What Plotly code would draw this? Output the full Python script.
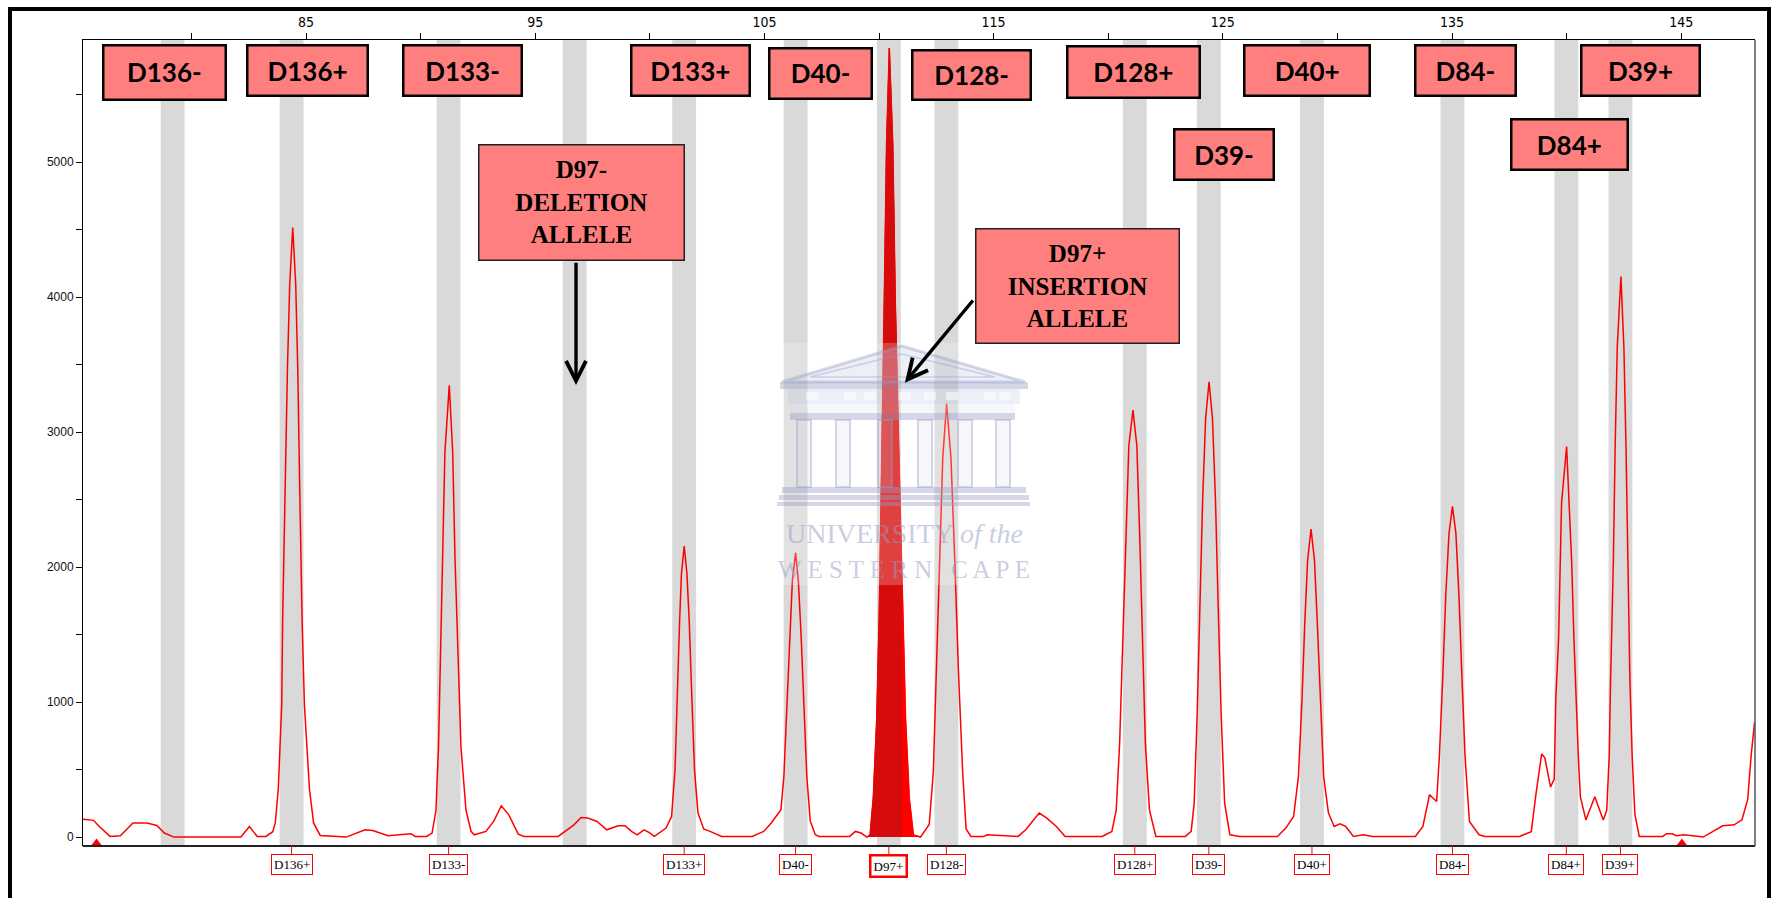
import plotly.graph_objects as go

# ---------------- data ----------------
# marker bins (grey bands) : label and centre in base pairs
bin_labels = ["D136-", "D136+", "D133-", "D97-", "D133+", "D40-", "D97+",
              "D128-", "D128+", "D39-", "D40+", "D84-", "D84+", "D39+"]
bin_centers = [79.18, 84.37, 91.22, 96.72, 101.50, 106.36, 110.43,
               112.94, 121.16, 124.39, 128.89, 135.02, 139.99, 142.35]
bin_width = 1.04

# called alleles shown under the axis
called_labels = ["D136+", "D133-", "D133+", "D40-", "D97+", "D128-",
                 "D128+", "D39-", "D40+", "D84-", "D84+", "D39+"]
called_pos = [84.37, 91.22, 101.50, 106.36, 110.43, 112.94,
              121.16, 124.39, 128.89, 135.02, 139.99, 142.35]

# electropherogram trace: size (bp) and signal (RFU)
trace_x = [
    75.27, 75.73, 75.98, 76.45, 76.90, 77.45, 78.07, 78.49, 78.82, 79.24,
    82.16, 82.53, 82.87, 83.25, 83.55, 83.66, 83.79, 83.94, 83.98, 84.08,
    84.19, 84.29, 84.42, 84.55, 84.64, 84.73, 84.83, 84.93, 85.15, 85.33,
    85.62, 86.75, 87.58, 87.91, 88.58, 89.58, 89.76, 90.26, 90.50, 90.67,
    90.78, 90.86, 90.96, 91.06, 91.25, 91.40, 91.50, 91.64, 91.76, 91.98,
    92.20, 92.34, 92.85, 93.20, 93.52, 93.85, 94.26, 94.51, 96.00, 96.69,
    97.00, 97.29, 97.70, 98.12, 98.62, 98.92, 99.20, 99.45, 99.75, 99.96,
    100.20, 100.71, 100.95, 101.10, 101.20, 101.30, 101.38, 101.50, 101.62, 101.72,
    101.82, 101.95, 102.10, 102.35, 102.63, 103.13, 104.47, 104.97, 105.30, 105.72,
    105.85, 105.98, 106.10, 106.22, 106.36, 106.48, 106.60, 106.72, 106.85, 107.00,
    107.22, 107.39, 108.72, 108.97, 109.22, 109.47, 109.61, 109.75, 109.90, 110.01,
    110.13, 110.23, 110.33, 110.45, 110.60, 110.71, 110.87, 111.03, 111.16, 111.32,
    111.50, 111.81, 112.06, 112.19, 112.37, 112.51, 112.63, 112.78, 112.95, 113.14,
    113.31, 113.46, 113.65, 113.80, 114.01, 114.56, 114.73, 116.07, 116.40, 116.99,
    117.32, 117.74, 118.12, 119.74, 120.16, 120.35, 120.50, 120.62, 120.75, 120.90,
    121.08, 121.25, 121.38, 121.50, 121.62, 121.80, 122.08, 123.37, 123.62, 123.75,
    123.88, 124.00, 124.12, 124.25, 124.40, 124.55, 124.68, 124.80, 124.93, 125.08,
    125.31, 125.73, 127.38, 127.75, 128.09, 128.30, 128.45, 128.58, 128.70, 128.85,
    129.00, 129.12, 129.25, 129.40, 129.61, 129.86, 130.11, 130.36, 130.70, 131.12,
    131.54, 133.40, 133.73, 134.02, 134.33, 134.45, 134.60, 134.73, 134.87, 135.02,
    135.17, 135.30, 135.43, 135.57, 135.76, 136.18, 136.44, 137.95, 138.12, 138.37,
    138.46, 138.66, 138.91, 139.05, 139.30, 139.46, 139.50, 139.53, 139.65, 139.71,
    139.78, 140.00, 140.12, 140.22, 140.32, 140.41, 140.51, 140.60, 140.84, 141.23,
    141.60, 141.75, 141.86, 141.92, 142.04, 142.12, 142.21, 142.37, 142.50, 142.59,
    142.66, 142.76, 142.86, 142.98, 143.17, 144.19, 144.36, 144.61, 144.78, 145.12,
    145.96, 146.38, 146.81, 147.31, 147.65, 147.90, 148.05, 148.20,
]
trace_y = [
    133, 124, 79, 5, 10, 104, 104, 86, 30, 0,
    0, 79, 5, 5, 40, 105, 356, 979, 1602, 2537,
    3472, 4096, 4517, 4096, 3472, 2537, 1602, 979, 356, 105,
    12, 0, 54, 49, 10, 25, 5, 5, 30, 199,
    667, 1290, 2070, 2849, 3348, 2849, 2070, 1290, 667, 199,
    43, 17, 42, 120, 232, 165, 22, 5, 5, 91,
    145, 141, 116, 54, 84, 84, 42, 17, 54, 35,
    5, 67, 153, 500, 1100, 1600, 1950, 2157, 1950, 1600,
    1100, 500, 180, 60, 42, 5, 5, 42, 104, 203,
    450, 1000, 1500, 1900, 2106, 1900, 1500, 1000, 450, 120,
    17, 5, 5, 42, 30, 0, 16, 287, 868, 1643,
    2806, 3968, 5130, 5845, 5130, 3968, 2806, 1643, 868, 287,
    16, 0, 67, 93, 481, 1256, 2031, 2806, 3212, 2806,
    2031, 1256, 481, 60, 5, 5, 17, 5, 54, 178,
    141, 79, 5, 5, 42, 200, 700, 1400, 2200, 2900,
    3164, 2900, 2200, 1400, 700, 200, 5, 5, 42, 250,
    900, 1700, 2500, 3100, 3374, 3100, 2500, 1700, 900, 250,
    17, 5, 5, 67, 153, 450, 1000, 1600, 2050, 2283,
    2050, 1600, 1000, 450, 178, 79, 99, 79, 5, 17,
    5, 5, 79, 314, 264, 600, 1200, 1800, 2250, 2450,
    2250, 1800, 1200, 600, 116, 17, 5, 5, 17, 30,
    40, 314, 616, 587, 371, 429, 700, 1034, 1467, 2043,
    2476, 2894, 2476, 2043, 1467, 1034, 602, 300, 127, 299,
    127, 199, 602, 1176, 2043, 2908, 3629, 4153, 3629, 2908,
    2043, 1176, 602, 170, 5, 5, 25, 25, 10, 17,
    0, 42, 84, 91, 128, 277, 600, 850,
]

# highlighted D97+ peak (filled), and where its dark fill ends on the right flank
d97_start, d97_end = 109.47, 111.81
dark_split_x, dark_split_y = 110.98, 2000

# size-standard markers on the baseline
std_x = [75.86, 145.03]
std_y = [-43, -43]

x_tickvals = [80, 85, 90, 95, 100, 105, 110, 115, 120, 125, 130, 135, 140, 145]
x_ticktext = ["", "85", "", "95", "", "105", "", "115", "", "125", "", "135", "", "145"]
y_tickvals = [0, 500, 1000, 1500, 2000, 2500, 3000, 3500, 4000, 4500, 5000, 5500]
y_ticktext = ["0", "", "1000", "", "2000", "", "3000", "", "4000", "", "5000", ""]

# ---------------- layout geometry (pixels) ----------------
W, H = 1776, 898
PL, PR, PT, PB = 83, 1755, 40, 846


def px(x):
    return (x - PL) / (PR - PL)


def py(y):
    return (PB - y) / (PB - PT)


PINK = "#FF7F7F"
RED = "#FF0000"

fig = go.Figure()

# trace line
fig.add_trace(go.Scatter(x=trace_x, y=trace_y, mode="lines",
                         line=dict(color=RED, width=1.5), hoverinfo="skip",
                         showlegend=False))

# filled D97+ peak (bright part = whole peak, dark overlay = left part)
seg = [(a, b) for a, b in zip(trace_x, trace_y) if d97_start <= a <= d97_end]
fig.add_trace(go.Scatter(x=[a for a, _ in seg], y=[b for _, b in seg],
                         mode="lines", fill="tozeroy", fillcolor=RED,
                         line=dict(color=RED, width=1), showlegend=False,
                         hoverinfo="skip"))
dark = [(a, b) for a, b in seg if a < dark_split_x]
dx = [a for a, _ in dark] + [dark_split_x, dark_split_x]
dy = [b for _, b in dark] + [dark_split_y, 0]
fig.add_trace(go.Scatter(x=dx, y=dy, mode="lines", fill="toself",
                         fillcolor="#D60C0C", line=dict(color="#D60C0C", width=0.5),
                         showlegend=False, hoverinfo="skip"))

# size standard triangles
fig.add_trace(go.Scatter(x=std_x, y=std_y, mode="markers",
                         marker=dict(symbol="triangle-up", size=9, color=RED),
                         cliponaxis=False, showlegend=False, hoverinfo="skip"))

shapes = []
# grey bins
for c in bin_centers:
    shapes.append(dict(type="rect", xref="x", yref="paper",
                       x0=c - bin_width / 2, x1=c + bin_width / 2, y0=0, y1=1,
                       fillcolor="#D9D9D9", line=dict(width=0), layer="below"))

# bottom / right plot frame
shapes.append(dict(type="line", xref="paper", yref="paper", x0=0, x1=1, y0=0, y1=0,
                   line=dict(color="#222222", width=2.2)))
shapes.append(dict(type="line", xref="paper", yref="paper", x0=1, x1=1, y0=0, y1=1,
                   line=dict(color="#555555", width=1.5)))

# connector ticks to called allele labels
for c in called_pos:
    shapes.append(dict(type="line", xref="x", yref="paper", x0=c, x1=c,
                       y0=0, y1=py(854), line=dict(color=RED, width=1)))

# ---- watermark (University of the Western Cape) ----
wm_line = "rgba(150,156,198,0.40)"
wm_fill = "rgba(185,190,222,0.25)"
shapes.append(dict(type="rect", xref="paper", yref="paper",
                   x0=px(780), x1=px(1030), y0=py(585), y1=py(343),
                   fillcolor="rgba(255,255,255,0.22)", line=dict(width=0), layer="above"))
shapes.append(dict(type="path", xref="paper", yref="paper",
                   path="M {:.5f},{:.5f} L {:.5f},{:.5f} L {:.5f},{:.5f} Z".format(
                       px(782), py(382), px(902), py(346), px(1025), py(382)),
                   fillcolor=wm_fill, line=dict(color=wm_line, width=3), layer="above"))
shapes.append(dict(type="path", xref="paper", yref="paper",
                   path="M {:.5f},{:.5f} L {:.5f},{:.5f} L {:.5f},{:.5f} Z".format(
                       px(810), py(377), px(902), py(354), px(995), py(377)),
                   fillcolor="rgba(0,0,0,0)", line=dict(color=wm_line, width=1.5), layer="above"))
for (x0, x1, y0, y1, col) in [
        (780, 1028, 382, 389, wm_line),
        (788, 1020, 389, 404, wm_fill),
        (790, 1015, 404, 413, "rgba(210,213,235,0.20)"),
        (790, 1015, 413, 420, wm_line),
        (782, 1026, 487, 493, wm_line),
        (779, 1029, 495, 500, wm_line),
        (777, 1030, 502, 506, wm_line)]:
    shapes.append(dict(type="rect", xref="paper", yref="paper",
                       x0=px(x0), x1=px(x1), y0=py(y1), y1=py(y0),
                       fillcolor=col, line=dict(width=0), layer="above"))
for wx in [812, 850, 870, 905, 930, 952, 990, 1005]:
    shapes.append(dict(type="rect", xref="paper", yref="paper",
                       x0=px(wx - 6), x1=px(wx + 6), y0=py(400), y1=py(392),
                       fillcolor="rgba(255,255,255,0.5)", line=dict(width=0), layer="above"))
for cx in [804, 843, 885, 925, 965, 1003]:
    shapes.append(dict(type="rect", xref="paper", yref="paper",
                       x0=px(cx - 7), x1=px(cx + 7), y0=py(487), y1=py(420),
                       fillcolor="rgba(200,204,230,0.15)",
                       line=dict(color=wm_line, width=2), layer="above"))

# outer black frame
shapes.append(dict(type="path", xref="paper", yref="paper",
                   path="M {:.5f},{:.5f} L {:.5f},{:.5f} L {:.5f},{:.5f} L {:.5f},{:.5f}".format(
                       px(10), py(905), px(10), py(9), px(1769), py(9), px(1769), py(905)),
                   line=dict(color="black", width=4), layer="above"))

annotations = []
# called allele labels under the axis
for lab, c in zip(called_labels, called_pos):
    thick = lab == "D97+"
    annotations.append(dict(x=c, xref="x", y=py(854), yref="paper", yanchor="top",
                            text=lab, showarrow=False,
                            font=dict(family="Liberation Serif, Times New Roman, serif",
                                      size=13, color="black"),
                            bgcolor="white", bordercolor=RED,
                            borderwidth=2.5 if thick else 1, borderpad=2))

# top pink label boxes: label, centre x, centre y, width, height (pixels)
top_boxes = [
    ("D136-", 164.6, 72.7, 124.7, 56.7),
    ("D136+", 307.7, 70.8, 123.0, 53.0),
    ("D133-", 462.7, 70.8, 121.0, 53.0),
    ("D133+", 690.8, 70.8, 120.6, 53.0),
    ("D40-", 820.9, 73.0, 105.2, 52.6),
    ("D128-", 971.0, 74.9, 121.3, 52.3),
    ("D128+", 1133.3, 72.5, 134.7, 53.6),
    ("D39-", 1224.1, 155.0, 102.0, 53.4),
    ("D40+", 1306.9, 71.0, 128.3, 53.4),
    ("D84-", 1465.7, 71.0, 102.8, 53.4),
    ("D84+", 1569.8, 145.0, 118.6, 53.4),
    ("D39+", 1640.9, 71.0, 121.0, 53.4),
]
BW = 2.5
for lab, cx, cy, w, h in top_boxes:
    annotations.append(dict(x=px(cx), y=py(cy), xref="paper", yref="paper",
                            xanchor="center", yanchor="middle",
                            text="<b>" + lab + "</b>", showarrow=False,
                            font=dict(family="Lato, Open Sans, sans-serif", size=26,
                                      color="black"),
                            bgcolor=PINK, bordercolor="black", borderwidth=BW,
                            borderpad=0, width=w - 2 * BW, height=h - 2 * BW,
                            align="center", valign="middle"))

big_boxes = [
    ("D97-<br>DELETION<br>ALLELE", 581.7, 202.7, 206.7, 116.7),
    ("D97+<br>INSERTION<br>ALLELE", 1077.6, 286.4, 205.0, 116.0),
]
for txt, cx, cy, w, h in big_boxes:
    annotations.append(dict(x=px(cx), y=py(cy), xref="paper", yref="paper",
                            xanchor="center", yanchor="middle",
                            text="<b>" + txt + "</b>", showarrow=False,
                            font=dict(family="Liberation Serif, Times New Roman, serif",
                                      size=25, color="black"),
                            bgcolor=PINK, bordercolor="#222222", borderwidth=1.5,
                            borderpad=0, width=w - 3, height=h - 3,
                            align="center", valign="middle"))

# arrows: head (x, y) and tail (ax, ay) in data units
arrows = [(96.78, 3349, 96.78, 4267), (111.13, 3367, 114.15, 3987)]
for hx, hy, tx, ty in arrows:
    annotations.append(dict(x=hx, y=hy, xref="x", yref="y", ax=tx, ay=ty,
                            axref="x", ayref="y", text="", showarrow=True,
                            arrowhead=5, arrowsize=1.15, arrowwidth=3.4,
                            arrowcolor="black", standoff=0, startstandoff=0))

# watermark text
wm_text = "rgba(150,156,198,0.50)"
annotations.append(dict(x=px(904), y=py(533), xref="paper", yref="paper",
                        text="UNIVERSITY <i>of the</i>", showarrow=False,
                        font=dict(family="Liberation Serif, serif", size=28, color=wm_text)))
annotations.append(dict(x=px(904), y=py(569), xref="paper", yref="paper",
                        text="W E S T E R N   C A P E", showarrow=False,
                        font=dict(family="Liberation Serif, serif", size=25, color=wm_text)))

fig.update_layout(
    width=W, height=H,
    margin=dict(l=PL, r=W - PR, t=PT, b=H - PB, pad=0),
    paper_bgcolor="white", plot_bgcolor="white",
    showlegend=False,
    shapes=shapes, annotations=annotations,
    xaxis=dict(side="top", range=[75.27, 148.22], tickmode="array",
               tickvals=x_tickvals, ticktext=x_ticktext, ticks="outside",
               ticklen=6, tickwidth=1, tickcolor="black", showline=True,
               linecolor="black", linewidth=1, showgrid=False, zeroline=False,
               tickfont=dict(family="Liberation Sans Narrow, DejaVu Sans Condensed, Arial Narrow, sans-serif",
                             size=14, color="black")),
    yaxis=dict(range=[-66, 5906], tickmode="array", tickvals=y_tickvals,
               ticktext=y_ticktext, ticks="outside", ticklen=6, tickwidth=1,
               tickcolor="black", showline=True, linecolor="black", linewidth=1,
               showgrid=False, zeroline=False,
               tickfont=dict(family="Liberation Sans, Arial, sans-serif", size=12,
                             color="#111111")),
)

fig.write_html("out.html")
